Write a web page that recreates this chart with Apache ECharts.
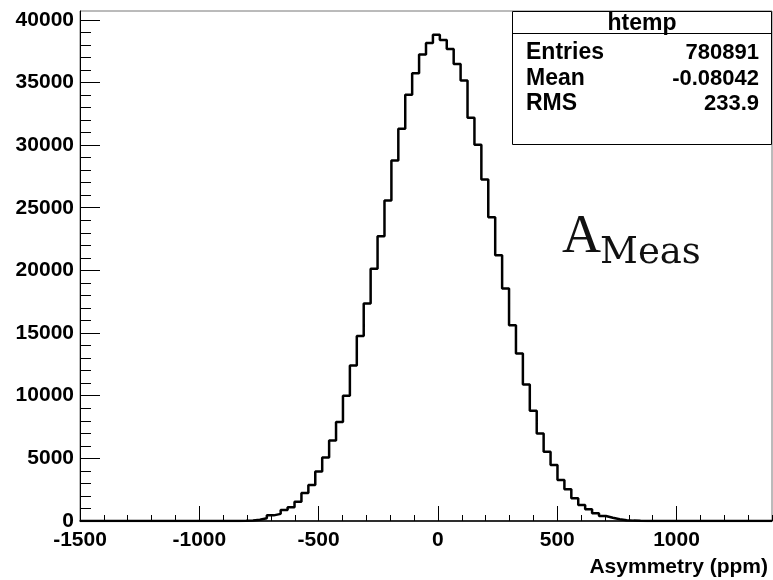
<!DOCTYPE html>
<html>
<head>
<meta charset="utf-8">
<script src="https://cdn.jsdelivr.net/npm/echarts@6/dist/echarts.min.js"></script>
<style>
  html, body { margin: 0; padding: 0; background: #fff; }
  #chart { width: 773px; height: 580px; }
</style>
</head>
<body>
<div id="chart"></div>
<script>
// Histogram binning: 100 bins of 29 ppm starting at -1500
const binLow = -1500;
const binWidth = 29;
const binCount = 100;

// Entries per bin
const counts = [
  0, 0, 0, 0, 0, 0, 0, 0, 0, 0,
  0, 0, 0, 0, 0, 0, 0, 0, 0, 0,
  0, 0, 8, 20, 45, 100, 220, 450, 570, 877,
  1090, 1540, 2230, 2880, 3960, 5060, 6430, 7910, 9990, 12400,
  14770, 17350, 20140, 22720, 25580, 28770, 31300, 34010, 35730, 37220,
  38150, 38810, 38390, 37670, 36480, 35150, 32180, 30020, 27260, 24250,
  21200, 18550, 15620, 13370, 10900, 8790, 6990, 5520, 4460, 3270,
  2530, 1810, 1280, 930, 610, 400, 260, 135, 60, 30,
  12, 0, 0, 0, 0, 0, 0, 0, 0, 0,
  0, 0, 0, 0, 0, 0, 0, 0, 0, 0
];

// Axis ticks
const xMajorTicks = [-1500, -1000, -500, 0, 500, 1000];
const xMinorTicks = [];
for (let v = -1500; v <= 1400; v += 100) xMinorTicks.push(v);
const yMajorTicks = [0, 5000, 10000, 15000, 20000, 25000, 30000, 35000, 40000];
const yMinorTicks = [];
for (let v = 0; v <= 40000; v += 1000) yMinorTicks.push(v);

// Statistics box
const statsTitle = 'htemp';
const statsRows = [
  ['Entries', '780891'],
  ['Mean', '-0.08042'],
  ['RMS', '233.9']
];
const xTitle = 'Asymmetry (ppm)';

const xMin = -1500, xMax = 1400, yMin = 0, yMax = 40700;

// Step outline: one point at each bin's lower edge, plus the closing edge
const stepData = [];
for (let i = 0; i < binCount; i++) {
  stepData.push([binLow + i * binWidth, counts[i]]);
}
stepData.push([binLow + binCount * binWidth, counts[binCount - 1]]);

const FONT = '"Liberation Sans", Arial, sans-serif';
const plain = v => String(v);
const labelStyle = { color: '#000', fontFamily: FONT, fontWeight: 'bold', fontSize: 21, formatter: plain };

const chart = echarts.init(document.getElementById('chart'), null, { renderer: 'canvas' });

const boxL = 512.5, boxR = 771.5, boxT = 11.5, boxB = 144.5, boxDiv = 33.5;
const statsGraphics = [
  { type: 'rect', shape: { x: boxL, y: boxT, width: boxR - boxL, height: boxB - boxT },
    style: { fill: '#fff', stroke: '#000', lineWidth: 1 }, z: 100 },
  { type: 'line', shape: { x1: boxL, y1: boxDiv, x2: boxR, y2: boxDiv },
    style: { stroke: '#000', lineWidth: 1 }, z: 101 },
  { type: 'text', x: (boxL + boxR) / 2, y: 24, z: 102,
    style: { text: statsTitle, align: 'center', verticalAlign: 'middle',
      font: 'bold 23px ' + FONT, fill: '#000' } }
];
const rowY = [53, 79, 104];
statsRows.forEach((r, k) => {
  statsGraphics.push({ type: 'text', x: 526, y: rowY[k], z: 102,
    style: { text: r[0], align: 'left', verticalAlign: 'middle', font: 'bold 23px ' + FONT, fill: '#000' } });
  statsGraphics.push({ type: 'text', x: 759, y: rowY[k], z: 102,
    style: { text: r[1], align: 'right', verticalAlign: 'middle', font: 'bold 22px ' + FONT, fill: '#000' } });
});

chart.setOption({
  animation: false,
  backgroundColor: '#fff',
  grid: {
    left: 80, right: 1, top: 11, bottom: 59,
    show: true, borderColor: '#777', borderWidth: 1, backgroundColor: 'transparent'
  },
  xAxis: [
    {
      type: 'value', min: xMin, max: xMax, interval: 500, position: 'bottom',
      axisLine: { show: true, onZero: false, lineStyle: { color: '#000', width: 1.5 } },
      axisTick: { show: true, inside: true, length: 15, customValues: xMajorTicks,
        lineStyle: { color: '#000', width: 1 } },
      axisLabel: Object.assign({ margin: 9, customValues: xMajorTicks }, labelStyle),
      splitLine: { show: false }
    },
    {
      type: 'value', min: xMin, max: xMax, interval: 100, position: 'bottom',
      axisLine: { show: false, onZero: false },
      axisTick: { show: true, inside: true, length: 6, customValues: xMinorTicks,
        lineStyle: { color: '#000', width: 1 } },
      axisLabel: { show: false },
      splitLine: { show: false }
    }
  ],
  yAxis: [
    {
      type: 'value', min: yMin, max: yMax, interval: 5000, position: 'left',
      axisLine: { show: true, onZero: false, lineStyle: { color: '#000', width: 1 } },
      axisTick: { show: true, inside: true, length: 20, customValues: yMajorTicks,
        lineStyle: { color: '#000', width: 1 } },
      axisLabel: Object.assign({ margin: 6, customValues: yMajorTicks,
        verticalAlign: 'middle', padding: [4, 0, 0, 0] }, labelStyle),
      splitLine: { show: false }
    },
    {
      type: 'value', min: yMin, max: yMax, interval: 1000, position: 'left',
      axisLine: { show: false, onZero: false },
      axisTick: { show: true, inside: true, length: 11, customValues: yMinorTicks,
        lineStyle: { color: '#000', width: 1 } },
      axisLabel: { show: false },
      splitLine: { show: false }
    }
  ],
  series: [
    {
      type: 'line', xAxisIndex: 0, yAxisIndex: 0,
      step: 'end', data: stepData, showSymbol: false, symbol: 'none',
      lineStyle: { color: '#000', width: 2.5 }, z: 5
    }
  ],
  graphic: statsGraphics.concat([
    { type: 'text', x: 768, y: 567, z: 50,
      style: { text: xTitle, align: 'right', verticalAlign: 'middle',
        font: 'bold 21px ' + FONT, fill: '#000' } },
    { type: 'text', x: 562, y: 211, z: 50,
      style: { text: 'A', align: 'left', verticalAlign: 'top',
        font: '54px "Liberation Serif", serif', fill: '#111' } },
    { type: 'text', x: 600, y: 235, z: 50,
      style: { text: 'Meas', align: 'left', verticalAlign: 'top',
        font: '37px "DejaVu Serif", serif', fill: '#111' } }
  ])
});
</script>
</body>
</html>
